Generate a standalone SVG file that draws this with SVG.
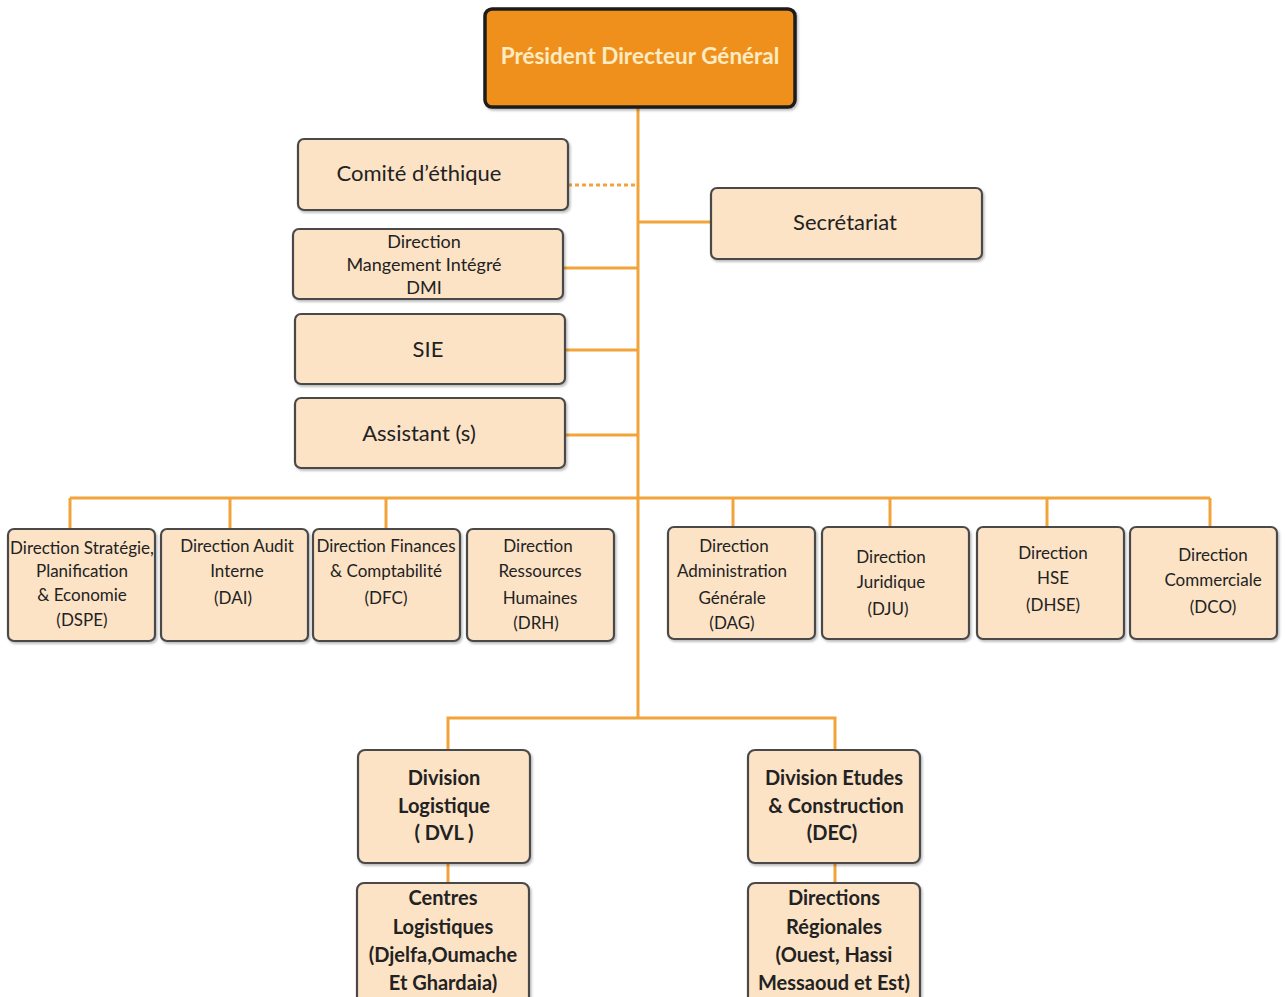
<svg xmlns="http://www.w3.org/2000/svg" width="1285" height="997" viewBox="0 0 1285 997">
<defs>
<style>
.box{fill:#FCE3C6;stroke:#4a4a4a;stroke-width:2.2}
.t{font-family:Lato,"Open Sans","Liberation Sans",sans-serif;fill:#222;text-anchor:middle}
.m{font-size:17px}
.b{font-size:20px;font-weight:bold}
.c{stroke:#F2A33A;stroke-width:3;fill:none}
</style>
<filter id="sh" x="-5%" y="-5%" width="115%" height="120%"><feDropShadow dx="1.5" dy="2" stdDeviation="1.2" flood-color="#000" flood-opacity="0.25"/></filter>
</defs>
<rect width="1285" height="997" fill="#fff"/>
<g id="connectors">
<path class="c" d="M638 107V718"/>
<path class="c" d="M568 185H638" stroke-dasharray="4 3"/>
<path class="c" d="M638 222H711"/>
<path class="c" d="M563 268H638"/>
<path class="c" d="M565 350H638"/>
<path class="c" d="M565 435H638"/>
<path class="c" d="M70 498H1210"/>
<path class="c" d="M70 498V529M230 498V529M386 498V529M733 498V527M890 498V527M1047 498V527M1210 498V527"/>
<path class="c" d="M448 750V718H835V750"/>
<path class="c" d="M448 863V883M835 863V883"/>
</g>
<g id="pdg"><rect x="485" y="9" width="310" height="98" rx="7" fill="#F0901E" stroke="#1e1e1e" stroke-width="3.5" filter="url(#sh)"/><text class="t" x="640" y="64" style="font-size:22.5px;font-weight:bold;fill:#FDEBC2">Président Directeur Général</text></g>
<g id="comite"><rect class="box" x="298" y="139" width="270" height="71" rx="6" filter="url(#sh)"/><text class="t" x="419" y="181" font-size="22">Comité d’éthique</text></g>
<g id="secretariat"><rect class="box" x="711" y="188" width="271" height="71" rx="6" filter="url(#sh)"/><text class="t" x="845" y="230" font-size="22">Secrétariat</text></g>
<g id="dmi"><rect class="box" x="293" y="229" width="270" height="70" rx="6" filter="url(#sh)"/><text class="t" x="424" y="248" font-size="18">Direction</text><text class="t" x="424" y="271" font-size="18">Mangement Intégré</text><text class="t" x="424" y="294" font-size="18">DMI</text></g>
<g id="sie"><rect class="box" x="295" y="314" width="270" height="70" rx="6" filter="url(#sh)"/><text class="t" x="428" y="357" font-size="22">SIE</text></g>
<g id="assistant"><rect class="box" x="295" y="398" width="270" height="70" rx="6" filter="url(#sh)"/><text class="t" x="419" y="441" font-size="22">Assistant (s)</text></g>
<g id="dspe"><rect class="box" x="8" y="529" width="147" height="112" rx="6" filter="url(#sh)"/><text class="t m" x="82" y="554" font-size="16">Direction Stratégie,</text><text class="t m" x="82" y="577">Planification</text><text class="t m" x="82" y="601">&amp; Economie</text><text class="t m" x="82" y="626">(DSPE)</text></g>
<g id="dai"><rect class="box" x="161" y="529" width="147" height="112" rx="6" filter="url(#sh)"/><text class="t m" x="237" y="552">Direction Audit</text><text class="t m" x="237" y="577">Interne</text><text class="t m" x="233" y="604">(DAI)</text></g>
<g id="dfc"><rect class="box" x="313" y="529" width="147" height="112" rx="6" filter="url(#sh)"/><text class="t m" x="386" y="552">Direction Finances</text><text class="t m" x="386" y="577">&amp; Comptabilité</text><text class="t m" x="386" y="604">(DFC)</text></g>
<g id="drh"><rect class="box" x="467" y="529" width="147" height="112" rx="6" filter="url(#sh)"/><text class="t m" x="538" y="552">Direction</text><text class="t m" x="540" y="577">Ressources</text><text class="t m" x="540" y="604">Humaines</text><text class="t m" x="536" y="629">(DRH)</text></g>
<g id="dag"><rect class="box" x="668" y="527" width="147" height="112" rx="6" filter="url(#sh)"/><text class="t m" x="734" y="552">Direction</text><text class="t m" x="732" y="577">Administration</text><text class="t m" x="732" y="604">Générale</text><text class="t m" x="732" y="629">(DAG)</text></g>
<g id="dju"><rect class="box" x="822" y="527" width="147" height="112" rx="6" filter="url(#sh)"/><text class="t m" x="891" y="563">Direction</text><text class="t m" x="891" y="588">Juridique</text><text class="t m" x="888" y="615">(DJU)</text></g>
<g id="dhse"><rect class="box" x="977" y="527" width="147" height="112" rx="6" filter="url(#sh)"/><text class="t m" x="1053" y="559">Direction</text><text class="t m" x="1053" y="584">HSE</text><text class="t m" x="1053" y="611">(DHSE)</text></g>
<g id="dco"><rect class="box" x="1130" y="527" width="147" height="112" rx="6" filter="url(#sh)"/><text class="t m" x="1213" y="561">Direction</text><text class="t m" x="1213" y="586">Commerciale</text><text class="t m" x="1213" y="613">(DCO)</text></g>
<g id="dvl"><rect class="box" x="358" y="750" width="172" height="113" rx="7" filter="url(#sh)"/><text class="t b" x="444" y="785">Division</text><text class="t b" x="444" y="813">Logistique</text><text class="t b" x="444" y="840">( DVL )</text></g>
<g id="dec"><rect class="box" x="748" y="750" width="172" height="113" rx="7" filter="url(#sh)"/><text class="t b" x="834" y="785">Division Etudes</text><text class="t b" x="836" y="813">&amp; Construction</text><text class="t b" x="832" y="840">(DEC)</text></g>
<g id="centres"><rect class="box" x="357" y="883" width="172" height="125" rx="7" filter="url(#sh)"/><text class="t b" x="443" y="905">Centres</text><text class="t b" x="443" y="934">Logistiques</text><text class="t b" x="443" y="962">(Djelfa,Oumache</text><text class="t b" x="443" y="990">Et Ghardaia)</text></g>
<g id="regionales"><rect class="box" x="748" y="883" width="172" height="125" rx="7" filter="url(#sh)"/><text class="t b" x="834" y="905">Directions</text><text class="t b" x="834" y="934">Régionales</text><text class="t b" x="834" y="962">(Ouest, Hassi</text><text class="t b" x="834" y="990">Messaoud et Est)</text></g>
</svg>
